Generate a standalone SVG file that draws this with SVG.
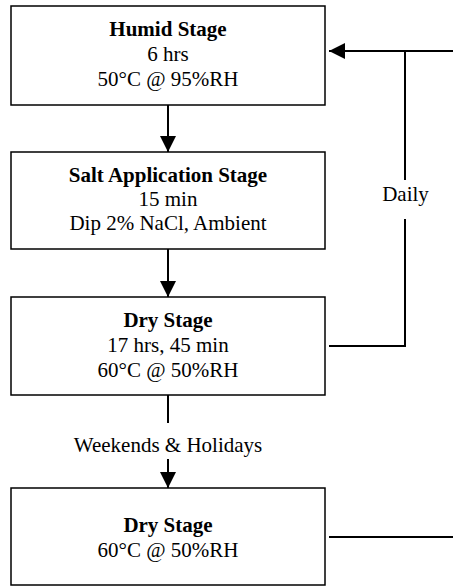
<svg xmlns="http://www.w3.org/2000/svg" width="453" height="586" viewBox="0 0 453 586">
<defs>
<style>
.box{fill:#fff;stroke:#000;stroke-width:1.5}
text{font-family:'Liberation Serif','Times New Roman',serif;font-size:21px;fill:#000;text-anchor:middle}
.b{font-weight:bold}
.c{fill:none;stroke:#000;stroke-width:2}
</style>
<marker id="ah" viewBox="0 0 16 16" refX="16" refY="8" markerWidth="16" markerHeight="16" markerUnits="userSpaceOnUse" orient="auto">
<path d="M0,0 L16,8 L0,16 Z" fill="#000"/>
</marker>
</defs>
<g id="connectors">
<line class="c" x1="168" y1="105" x2="168" y2="152" marker-end="url(#ah)"/>
<line class="c" x1="168" y1="249" x2="168" y2="297" marker-end="url(#ah)"/>
<line class="c" x1="168" y1="395" x2="168" y2="423"/>
<line class="c" x1="168" y1="459" x2="168" y2="488" marker-end="url(#ah)"/>
<polyline class="c" points="329,346 405,346 405,219"/>
<line class="c" x1="405" y1="180" x2="405" y2="51"/>
<line class="c" x1="453" y1="51" x2="329" y2="51" marker-end="url(#ah)"/>
<line class="c" x1="329" y1="537" x2="453" y2="537"/>
<text x="405.5" y="201">Daily</text>
<text x="168" y="452">Weekends &amp; Holidays</text>
</g>
<g id="humid">
<rect class="box" x="11" y="6" width="314" height="99"/>
<text class="b" x="168" y="36">Humid Stage</text>
<text x="168" y="61">6 hrs</text>
<text x="168" y="86">50°C @ 95%RH</text>
</g>
<g id="salt">
<rect class="box" x="11" y="152" width="314" height="97"/>
<text class="b" x="168" y="182">Salt Application Stage</text>
<text x="168" y="206">15 min</text>
<text x="168" y="230">Dip 2% NaCl, Ambient</text>
</g>
<g id="dry1">
<rect class="box" x="11" y="297" width="314" height="98"/>
<text class="b" x="168" y="327">Dry Stage</text>
<text x="168" y="352">17 hrs, 45 min</text>
<text x="168" y="377">60°C @ 50%RH</text>
</g>
<g id="dry2">
<rect class="box" x="11" y="488" width="314" height="97"/>
<text class="b" x="168" y="532">Dry Stage</text>
<text x="168" y="557">60°C @ 50%RH</text>
</g>
</svg>
